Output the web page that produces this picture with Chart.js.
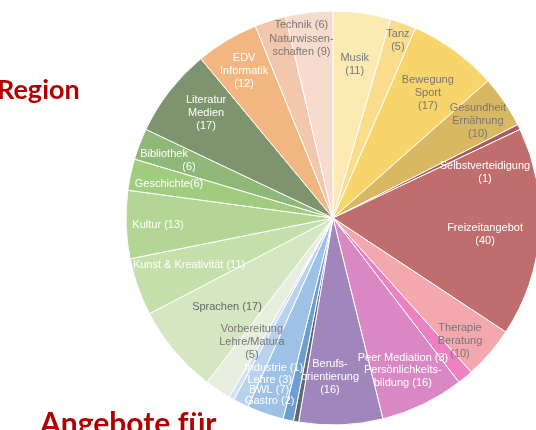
<!DOCTYPE html>
<html><head><meta charset="utf-8">
<script src="https://cdn.jsdelivr.net/npm/chart.js@4.4.1/dist/chart.umd.min.js"></script>
<style>
html,body{margin:0;padding:0;background:#fff;overflow:hidden;}
#wrap{position:relative;width:536px;height:430px;overflow:hidden;}
canvas{position:absolute;left:0;top:0;}
.t{position:absolute;font-family:Lato,"Open Sans",sans-serif;font-weight:bold;color:#b00000;white-space:nowrap;line-height:1;}
</style></head><body>
<div id="wrap"><canvas id="c" width="536" height="430"></canvas>
<div class="t" style="left:-3px;top:75px;font-size:27px;">Region</div>
<div class="t" style="left:40px;top:407px;font-size:30px;">Angebote für</div>
</div>
<script>
const categories = ["Musik","Tanz","Bewegung Sport","Gesundheit Ernährung","Selbstverteidigung","Freizeitangebot","Therapie Beratung","Peer Mediation","Persönlichkeitsbildung","Berufsorientierung","Sonstige","Gastro","BWL","Lehre","Industrie","Vorbereitung Lehre/Matura","Sprachen","Kunst & Kreativität","Kultur","Geschichte","Bibliothek","Literatur Medien","EDV Informatik","Technik","Naturwissenschaften"];
const values = [11,5,17,10,1,40,10,3,16,16,1,2,7,3,1,5,17,11,13,6,6,17,12,6,9];
const labelTemplates = ["Musik\n({v})","Tanz\n({v})","Bewegung\nSport\n({v})","Gesundheit\nErnährung\n({v})","Selbstverteidigung\n({v})","Freizeitangebot\n({v})","Therapie\nBeratung\n({v})","Peer Mediation ({v})","Persönlichkeits-\nbildung ({v})","Berufs-\norientierung\n({v})","","Gastro ({v})","BWL ({v})","Lehre ({v})","Industrie ({v})","Vorbereitung\nLehre/Matura\n({v})","Sprachen ({v})","Kunst & Kreativität ({v})","Kultur ({v})","Geschichte({v})","Bibliothek\n({v})","Literatur\nMedien\n({v})","EDV\nInformatik\n({v})","Technik ({v})","Naturwissen-\nschaften ({v})"];

const sliceColors = ["#fdeab3","#f9dd8c","#f7d56b","#d8b862","#a95b5d","#c06d6d","#f2a8ad","#ec80c0","#d988c4","#a086bb","#5f6778","#6c9fd0","#9dc2e6","#b8d2ed","#d0e1f2","#e7eedd","#d4e6c2","#c5dfab","#b4d694","#a1cc7f","#8fb878","#7d946e","#f2b681","#f3c7ac","#f7dbcc"];
const labelInk = ["#777","#777","#777","#777","#fff","#fff","#777","#fff","#fff","#fff","#fff","#fff","#fff","#fff","#fff","#777","#666","#fff","#fff","#fff","#fff","#fff","#fff","#777","#777"];
// label placement: [radius fraction, angle shift in degrees, second-line x shift]
const labelPlace = [[0.747,0],[0.915,0.2],[0.758,1.2],[0.843,0.3],[0.766,9.5],[0.739,2.3],[0.854,3.3],[0.756,13.1],[0.835,1.9],[0.768,3.3],[0,0],[0.935,6.6],[0.886,1.3],[0.84,-5.1],[0.779,-7.9],[0.716,-0.6],[0.669,0],[0.732,1.3],[0.846,-0.5],[0.809,-0.4],[0.863,-2.0,25],[0.796,1.8],[0.83,-0.3],[0.945,8.3],[0.847,-3.75]];

const labelPlugin = {
  id:'sliceLabels',
  afterDatasetsDraw(chart){
    const ctx = chart.ctx;
    const meta = chart.getDatasetMeta(0);
    ctx.save();
    ctx.font = '11px "Liberation Sans", Arial, sans-serif';
    ctx.textAlign = 'center';
    ctx.textBaseline = 'middle';
    meta.data.forEach((arc,i)=>{
      const txt = labelTemplates[i].replace('{v}', values[i]);
      if(!txt) return;
      const p = arc.getProps(['x','y','startAngle','endAngle','outerRadius'], true);
      const pl = labelPlace[i];
      const a = (p.startAngle + p.endAngle)/2 + pl[1]*Math.PI/180;
      const r = p.outerRadius * pl[0];
      const cx = p.x + Math.cos(a)*r, cy = p.y + Math.sin(a)*r;
      const lines = txt.split('\n');
      const lh = 13;
      ctx.fillStyle = labelInk[i];
      lines.forEach((ln,k)=>{
        const dx = (k>0 && pl[2]) ? pl[2] : 0;
        ctx.fillText(ln, cx+dx, cy + (k-(lines.length-1)/2)*lh);
      });
    });
    ctx.restore();
  }
};

new Chart(document.getElementById('c'), {
  type:'pie',
  data:{labels:categories, datasets:[{data:values, backgroundColor:sliceColors, borderColor:'#ffffff', borderWidth:1, radius:207}]},
  options:{
    responsive:false, animation:false,
    layout:{padding:{left:130,right:0,top:6,bottom:0}},
    plugins:{legend:{display:false}, tooltip:{enabled:false}}
  },
  plugins:[labelPlugin]
});
</script>
</body></html>
